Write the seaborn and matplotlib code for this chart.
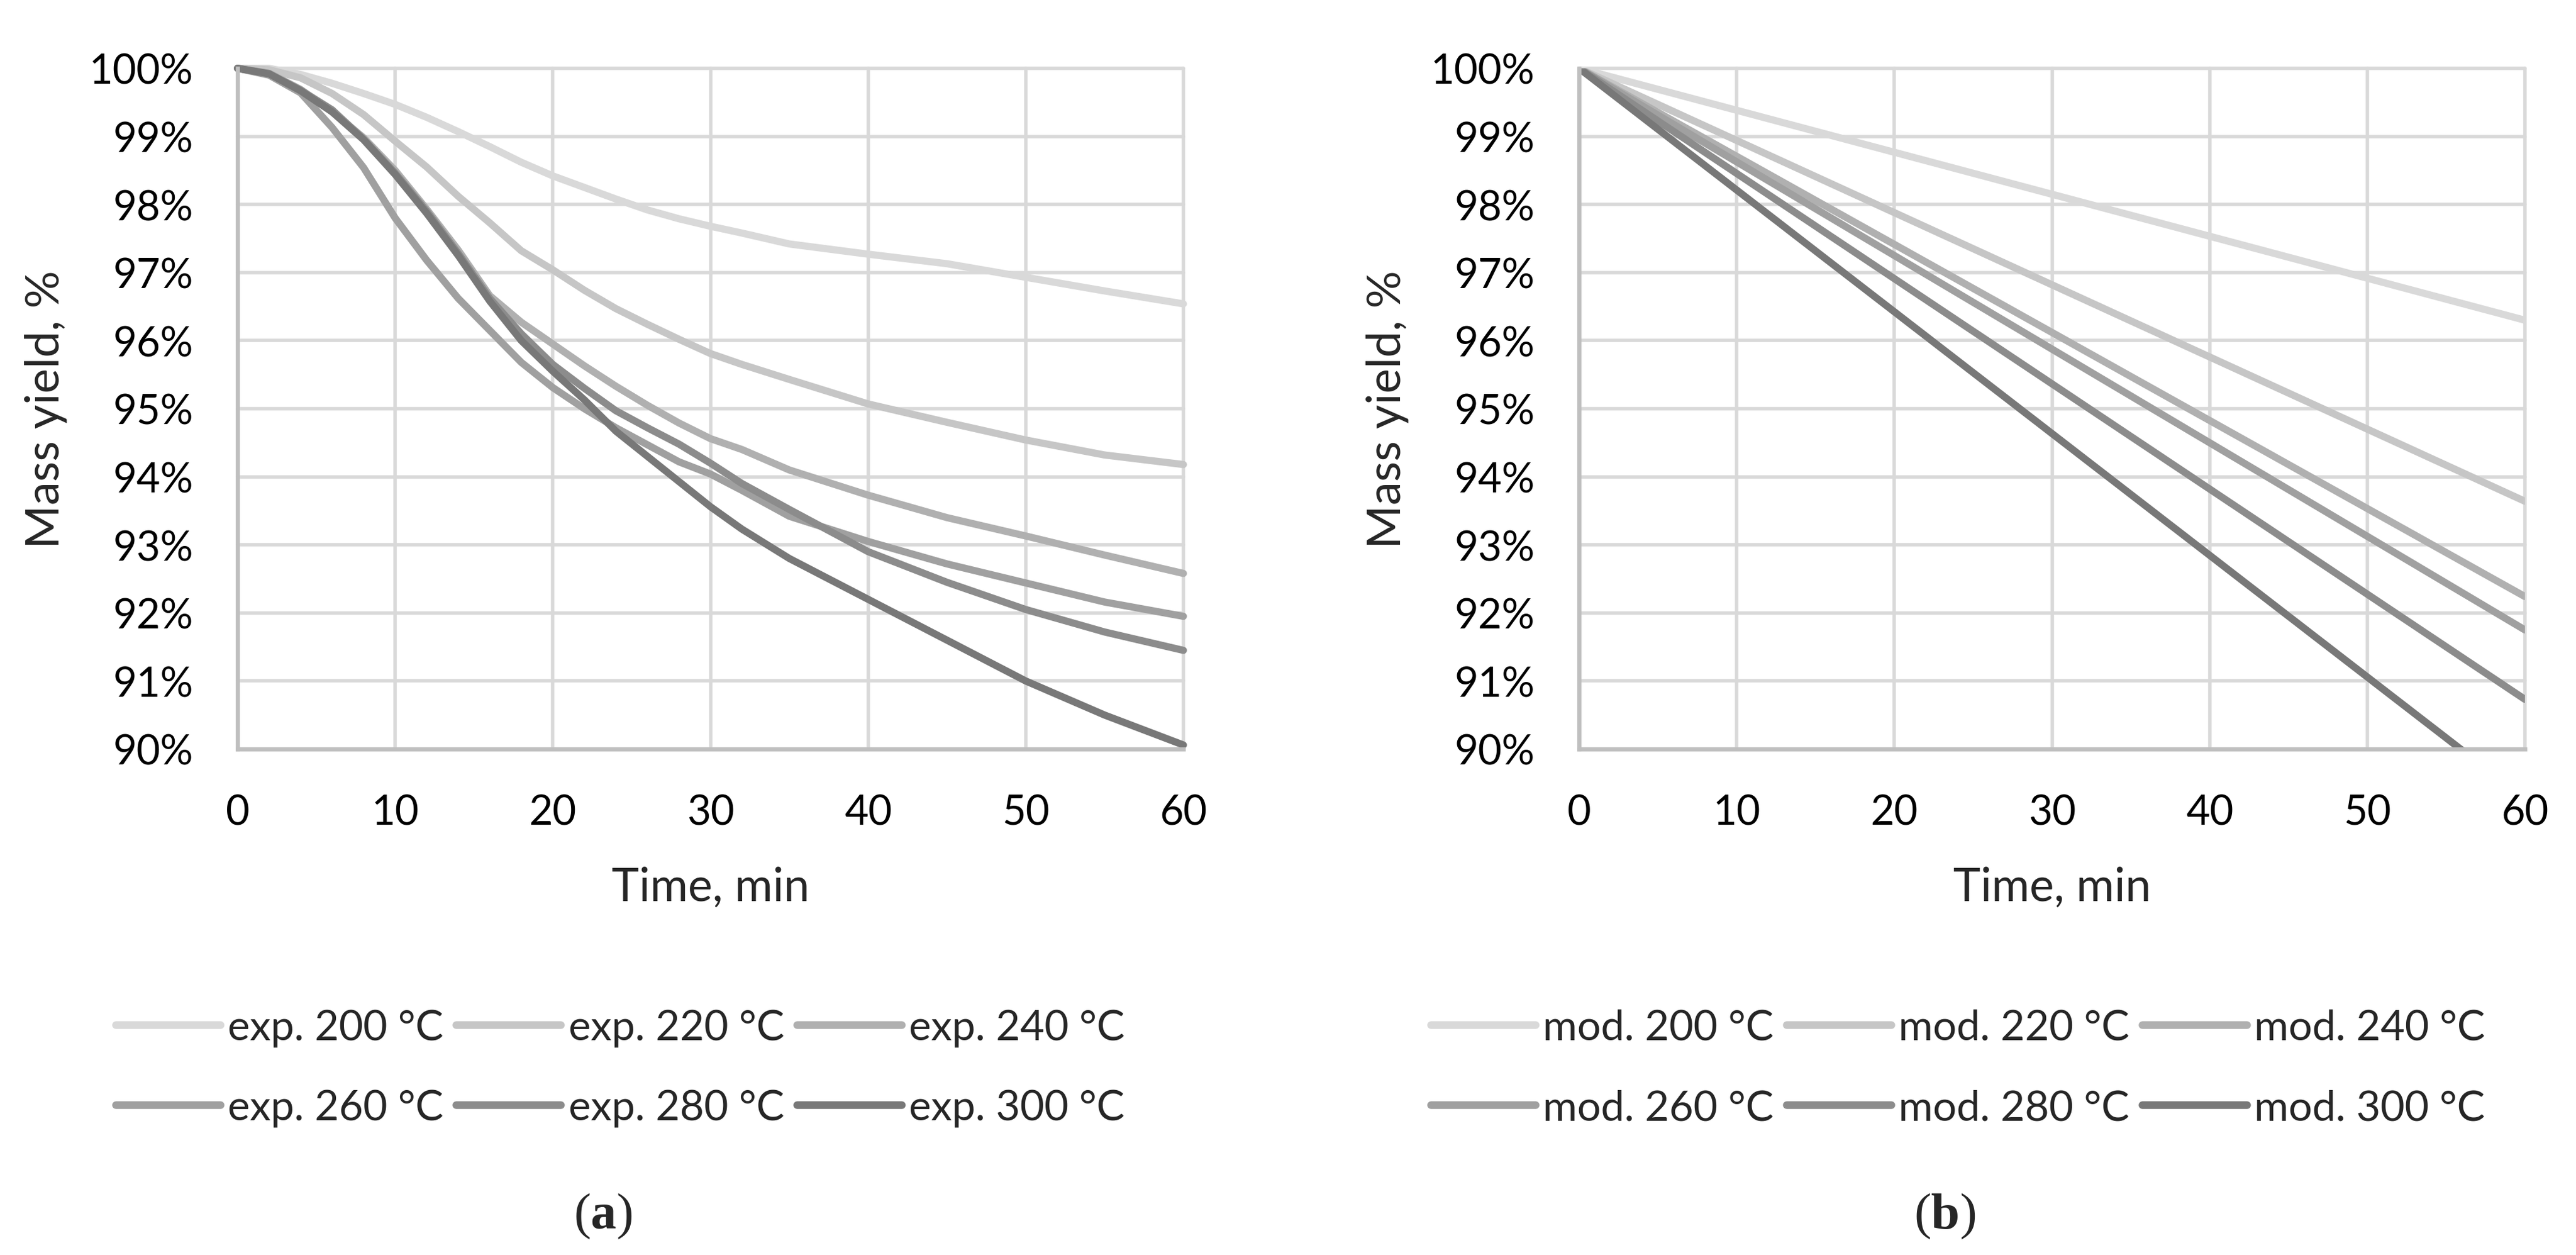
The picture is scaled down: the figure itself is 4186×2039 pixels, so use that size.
import numpy as np
import pandas as pd
import seaborn as sns
import matplotlib.pyplot as plt
from matplotlib.ticker import FuncFormatter, MultipleLocator

# data
temps = ["200", "220", "240", "260", "280", "300"]
colors = ["#d9d9d9", "#c6c6c6", "#b0b0b0", "#a0a0a0", "#8c8c8c", "#787878"]

t_exp = [0, 2, 4, 6, 8, 10, 12, 14, 16, 18, 20, 22, 24, 26, 28, 30, 32, 35, 40, 45, 50, 55, 60]
exp200 = [100, 100, 99.91, 99.78, 99.63, 99.47, 99.28, 99.07, 98.85, 98.62, 98.42, 98.25, 98.08, 97.92, 97.79, 97.68, 97.58, 97.42, 97.27, 97.13, 96.93, 96.73, 96.54]
exp220 = [100, 99.98, 99.86, 99.63, 99.32, 98.93, 98.55, 98.12, 97.73, 97.32, 97.04, 96.74, 96.47, 96.24, 96.02, 95.81, 95.65, 95.43, 95.07, 94.80, 94.54, 94.32, 94.18]
exp240 = [100, 99.93, 99.69, 99.36, 98.98, 98.50, 97.93, 97.33, 96.66, 96.27, 95.95, 95.63, 95.33, 95.05, 94.79, 94.56, 94.40, 94.10, 93.73, 93.40, 93.13, 92.85, 92.58]
exp260 = [100, 99.90, 99.64, 99.13, 98.54, 97.80, 97.18, 96.62, 96.15, 95.68, 95.31, 95.00, 94.72, 94.47, 94.22, 94.04, 93.80, 93.42, 93.05, 92.72, 92.44, 92.16, 91.95]
exp280 = [100, 99.92, 99.68, 99.39, 98.96, 98.46, 97.90, 97.28, 96.62, 96.10, 95.65, 95.30, 94.97, 94.72, 94.48, 94.20, 93.90, 93.52, 92.90, 92.45, 92.05, 91.72, 91.45]
exp300 = [100, 99.92, 99.67, 99.36, 98.95, 98.44, 97.87, 97.25, 96.58, 96.00, 95.55, 95.13, 94.67, 94.30, 93.93, 93.56, 93.23, 92.80, 92.20, 91.60, 91.00, 90.50, 90.06]

t_mod = [0, 60]
mod200 = [100, 96.30]
mod220 = [100, 93.64]
mod240 = [100, 92.24]
mod260 = [100, 91.75]
mod280 = [100, 90.73]
mod300 = [100, 89.27]

exp_series = [exp200, exp220, exp240, exp260, exp280, exp300]
mod_series = [mod200, mod220, mod240, mod260, mod280, mod300]


def long_df(t, series, prefix):
    rows = []
    for temp, vals in zip(temps, series):
        for x, y in zip(t, vals):
            rows.append({"time": x, "yield": y, "series": f"{prefix} {temp} °C"})
    return pd.DataFrame(rows)


df_exp = long_df(t_exp, exp_series, "exp.")
df_mod = long_df(t_mod, mod_series, "mod.")

sns.set_style("white")
plt.rcParams["font.family"] = ["Lato", "DejaVu Sans"]
plt.rcParams["lines.solid_capstyle"] = "round"
plt.rcParams["mathtext.fontset"] = "custom"
plt.rcParams["mathtext.bf"] = "Liberation Serif:bold"
plt.rcParams["mathtext.rm"] = "Liberation Serif"

W, H = 4186, 2040
fig = plt.figure(figsize=(W / 200, H / 200), dpi=200)

ax_l = fig.add_axes([386 / W, 1 - 1218 / H, 1537 / W, 1106 / H])
ax_r = fig.add_axes([2566 / W, 1 - 1218 / H, 1537 / W, 1106 / H])

for ax, df, prefix, clip, cap_x, cap in [
    (ax_l, df_exp, "exp.", False, 980, "a"),
    (ax_r, df_mod, "mod.", True, 3160, "b"),
]:
    names = [f"{prefix} {t} °C" for t in temps]
    sns.lineplot(data=df, x="time", y="yield", hue="series", hue_order=names,
                 palette=colors, linewidth=4.2, errorbar=None, legend=False, ax=ax)
    for ln in ax.get_lines():
        ln.set_clip_on(clip)
    ax.set_xlim(0, 60)
    ax.set_ylim(90, 100)
    ax.xaxis.set_major_locator(MultipleLocator(10))
    ax.yaxis.set_major_locator(MultipleLocator(1))
    ax.yaxis.set_major_formatter(FuncFormatter(lambda v, p: f"{v:.0f}%"))
    ax.set_axisbelow(True)
    ax.grid(True, color="#d9d9d9", linewidth=2.0)
    for gl in ax.get_xgridlines() + ax.get_ygridlines():
        gl.set_clip_on(False)
    for s in ["top", "right"]:
        ax.spines[s].set_visible(False)
    for s in ["left", "bottom"]:
        ax.spines[s].set_color("#bfbfbf")
        ax.spines[s].set_linewidth(2.4)
    ax.tick_params(length=0, labelsize=24, pad=26, colors="black")
    ax.set_xlabel("Time, min", fontsize=27)
    ax.set_ylabel("Mass yield, %", fontsize=27.5)
    ax.xaxis.set_label_coords(0.5, -0.172)
    ax.yaxis.set_label_coords(-0.18, 0.5)

    order = [0, 3, 1, 4, 2, 5]
    handles = [plt.Line2D([], [], color=colors[i], linewidth=4.5) for i in order]
    labels = [names[i] for i in order]
    lx = (188 if prefix == "exp." else 2325) / W
    fig.legend(handles, labels, loc="upper left", bbox_to_anchor=(lx, 1 - 1640 / H),
               ncol=3, frameon=False, fontsize=24.5, handlelength=2.5,
               handletextpad=0.18, columnspacing=0.3, labelspacing=1.0,
               borderpad=0, borderaxespad=0)

    fig.text(cap_x / W, 1 - 1976 / H, "(" + r"$\mathbf{" + cap + "}$" + ")",
             ha="center", va="center", fontsize=30, family="Liberation Serif")

fig.savefig("out.png", dpi=200, facecolor="white")
